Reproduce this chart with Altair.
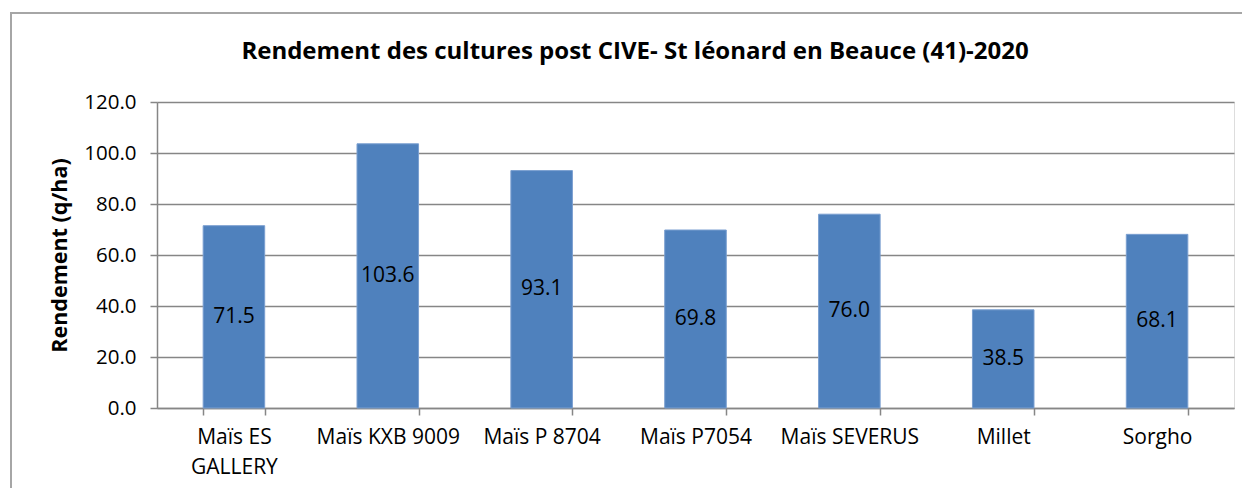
import altair as alt
import pandas as pd

categories = ["Maïs ES GALLERY", "Maïs KXB 9009", "Maïs P 8704", "Maïs P7054",
              "Maïs SEVERUS", "Millet", "Sorgho"]
values = [71.5, 103.6, 93.1, 69.8, 76.0, 38.5, 68.1]
title_text = "Rendement des cultures post CIVE- St léonard en Beauce (41)-2020"

df = pd.DataFrame({"culture": categories, "rendement": values})

FONT = "Open Sans"
GRAY = "#868686"

x_enc = alt.X(
    "culture:N", sort=categories, title=None,
    scale=alt.Scale(paddingInner=0.6, paddingOuter=0.3),
    axis=alt.Axis(
        labelAngle=0, labelFontSize=21, labelFont=FONT, labelColor="black",
        labelPadding=11, tickBand="extent", tickSize=7, tickColor=GRAY,
        tickWidth=1.5, domainColor=GRAY, domainWidth=1.5,
        labelLineHeight=30,
        labelExpr="datum.value == 'Maïs ES GALLERY' ? ['Maïs ES', 'GALLERY'] : datum.value",
    ),
)

y_enc = alt.Y(
    "rendement:Q", title="Rendement (q/ha)",
    scale=alt.Scale(domain=[0, 120], nice=False),
    axis=alt.Axis(
        values=[0, 20, 40, 60, 80, 100, 120], format=".1f",
        labelFontSize=20.5, labelFont=FONT, labelColor="black", labelPadding=14,
        tickSize=7, tickColor=GRAY, tickWidth=1.5,
        domainColor=GRAY, domainWidth=1.5,
        grid=True, gridColor=GRAY, gridWidth=1.5,
        titleFont=FONT, titleFontSize=21.5, titleFontWeight="bold",
        titleColor="black", titlePadding=12,
    ),
)

frame = alt.Chart(df).mark_rect(
    fill=None, stroke="#a6a6a6", strokeWidth=2, clip=False
).encode(
    x=alt.value(-146), y=alt.value(-89), x2=alt.value(3000), y2=alt.value(3000)
)

title = alt.Chart(df.head(1)).mark_text(
    text=title_text, font=FONT, fontSize=24, fontWeight="bold", color="black",
    align="center", baseline="middle", clip=False,
).encode(x=alt.value(478), y=alt.value(-50))

bars = alt.Chart(df).mark_bar(color="#4F81BD", stroke="#7a9fd0", strokeWidth=1).encode(
    x=x_enc, y=y_enc
)

labels = alt.Chart(df).transform_calculate(
    half="datum.rendement / 2"
).mark_text(fontSize=21, font=FONT, color="black", baseline="middle").encode(
    x=alt.X("culture:N", sort=categories),
    y=alt.Y("half:Q"),
    text=alt.Text("rendement:Q", format=".1f"),
)

chart = alt.layer(frame, title, bars, labels).properties(
    width=1077, height=306,
    autosize=alt.AutoSizeParams(type="none"),
    padding={"left": 149, "top": 94, "right": 8, "bottom": 80},
).configure_view(stroke=None).configure(background="white")

chart.save("out.html", embed_options={"renderer": "svg", "actions": False})
